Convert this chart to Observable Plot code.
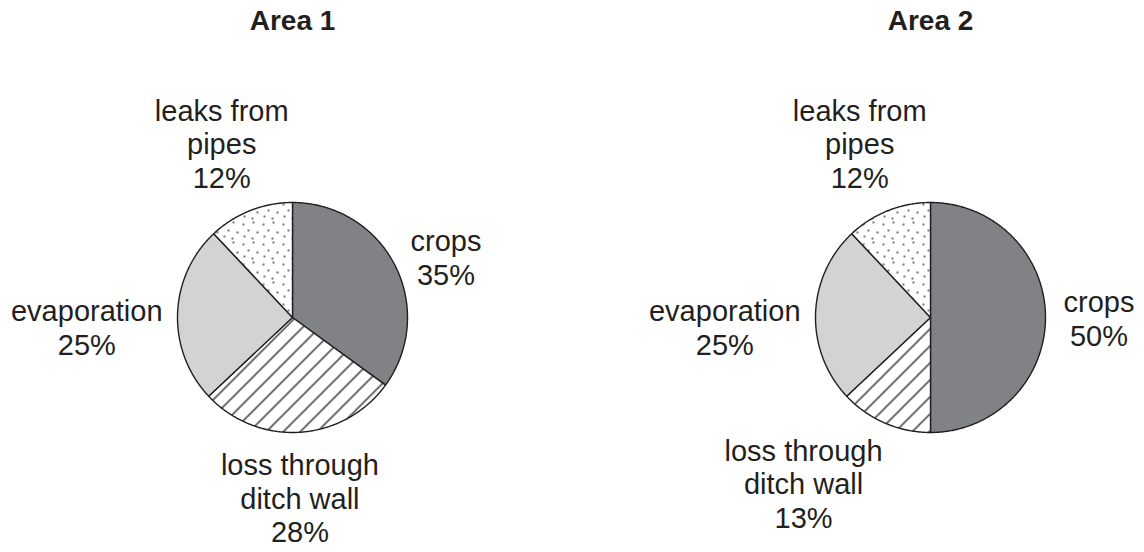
<!DOCTYPE html>
<html>
<head>
<meta charset="utf-8">
<script src="https://cdn.jsdelivr.net/npm/d3@7"></script>
<script src="https://cdn.jsdelivr.net/npm/@observablehq/plot@0.6"></script>
<style>
  body { margin: 0; background: #fff; }
  #chart svg { display: block; }
</style>
</head>
<body>
<div id="chart"></div>
<script>
// ---- data ----
const areas = ["Area 1", "Area 2"];
const categories = ["crops", "loss through ditch wall", "evaporation", "leaks from pipes"];
const labelLines = ["crops", "loss through\nditch wall", "evaporation", "leaks from\npipes"];
const area1Values = [35, 28, 25, 12];
const area2Values = [50, 13, 25, 12];

// ---- layout / style ----
const W = 1144, H = 552;
const layout = {
  centers: [[292, 317], [930, 317]],
  radius: 115,
  titleY: 21,
  labelPad: 10,
  fontSize: 29,
  lineHeight: 1.16
};
const ink = "#231f20";
const fills = ["#808285", "url(#hatch)", "#d1d3d4", "url(#dots)"];
// small hand nudges of the label blocks (px), like the original's manual placement
const labelNudge = [
  [[0, 18], [-4, -1], [-4, 16], [2, 10]],
  [[8, 1], [-46, -21], [-4, 16], [2, 10]]
];

// ---- geometry from values ----
const pie = d3.pie().sort(null).value(d => d.value);
const points = [];
const labels = [];
const titles = [];
const ctx = document.createElement("canvas").getContext("2d");
ctx.font = `${layout.fontSize}px "Liberation Sans", Arial, sans-serif`;

areas.forEach((area, ai) => {
  const vals = ai === 0 ? area1Values : area2Values;
  const [cx, cy] = layout.centers[ai];
  const r = layout.radius;
  titles.push({x: cx, y: layout.titleY, text: area});
  const arcs = pie(categories.map((c, i) => ({category: c, i, value: vals[i]})));
  arcs.forEach(a => {
    const key = area + "|" + a.data.category;
    const i = a.data.i;
    points.push({key, i, x: cx, y: cy});
    const n = Math.max(2, Math.ceil((a.endAngle - a.startAngle) / 0.01));
    for (let k = 0; k <= n; k++) {
      const t = a.startAngle + (a.endAngle - a.startAngle) * k / n;
      points.push({key, i, x: cx + r * Math.sin(t), y: cy - r * Math.cos(t)});
    }
    points.push({key, i, x: cx, y: cy});

    // label block placed outside along the slice's mid-angle
    const text = labelLines[i] + "\n" + vals[i] + "%";
    const lines = text.split("\n");
    const w = d3.max(lines, l => ctx.measureText(l).width);
    const h = lines.length * layout.fontSize * 1.19;
    const m = (a.startAngle + a.endAngle) / 2;
    const dx = Math.sin(m), dy = -Math.cos(m);
    const dist = r + layout.labelPad + Math.abs(dx) * w / 2 + Math.abs(dy) * h / 2;
    const [nx, ny] = labelNudge[ai][i];
    labels.push({x: cx + dx * dist + nx, y: cy + dy * dist + ny, text});
  });
});

// ---- pattern definitions ----
function patternDefs() {
  const defs = d3.create("svg:defs");
  const hs = 17;
  const hatch = defs.append("pattern").attr("id", "hatch")
    .attr("patternUnits", "userSpaceOnUse").attr("width", hs).attr("height", hs);
  hatch.append("rect").attr("width", hs).attr("height", hs).attr("fill", "#fff");
  hatch.append("path")
    .attr("d", `M-2,2L2,-2M0,${hs}L${hs},0M${hs - 2},${hs + 2}L${hs + 2},${hs - 2}`)
    .attr("stroke", ink).attr("stroke-width", 1.3).attr("fill", "none");
  const ds = 20;
  const dots = defs.append("pattern").attr("id", "dots")
    .attr("patternUnits", "userSpaceOnUse").attr("width", ds).attr("height", ds);
  dots.append("rect").attr("width", ds).attr("height", ds).attr("fill", "#fff");
  [[3, 4], [13, 2], [8, 10], [17, 12], [4, 16], [12, 18]].forEach(([x, y]) =>
    dots.append("circle").attr("cx", x).attr("cy", y).attr("r", 0.9).attr("fill", "#333"));
  return defs.node();
}

const sliceMarks = fills.map((f, i) =>
  Plot.line(points.filter(d => d.i === i), {
    x: "x", y: "y", z: "key",
    fill: f, stroke: ink, strokeWidth: 1.4, strokeLinejoin: "round"
  })
);

const chart = Plot.plot({
  width: W,
  height: H,
  margin: 0,
  x: {domain: [0, W], axis: null},
  y: {domain: [0, H], reverse: true, axis: null},
  style: {background: "#fff", fontFamily: '"Liberation Sans", Arial, sans-serif'},
  marks: [
    patternDefs,
    ...sliceMarks,
    Plot.text(labels, {
      x: "x", y: "y", text: "text",
      fontSize: layout.fontSize, lineHeight: layout.lineHeight,
      lineAnchor: "middle", textAnchor: "middle", fill: ink
    }),
    Plot.text(titles, {
      x: "x", y: "y", text: "text",
      fontSize: 28, fontWeight: "bold", lineAnchor: "middle", fill: ink
    })
  ]
});
document.getElementById("chart").appendChild(chart);
</script>
</body>
</html>
